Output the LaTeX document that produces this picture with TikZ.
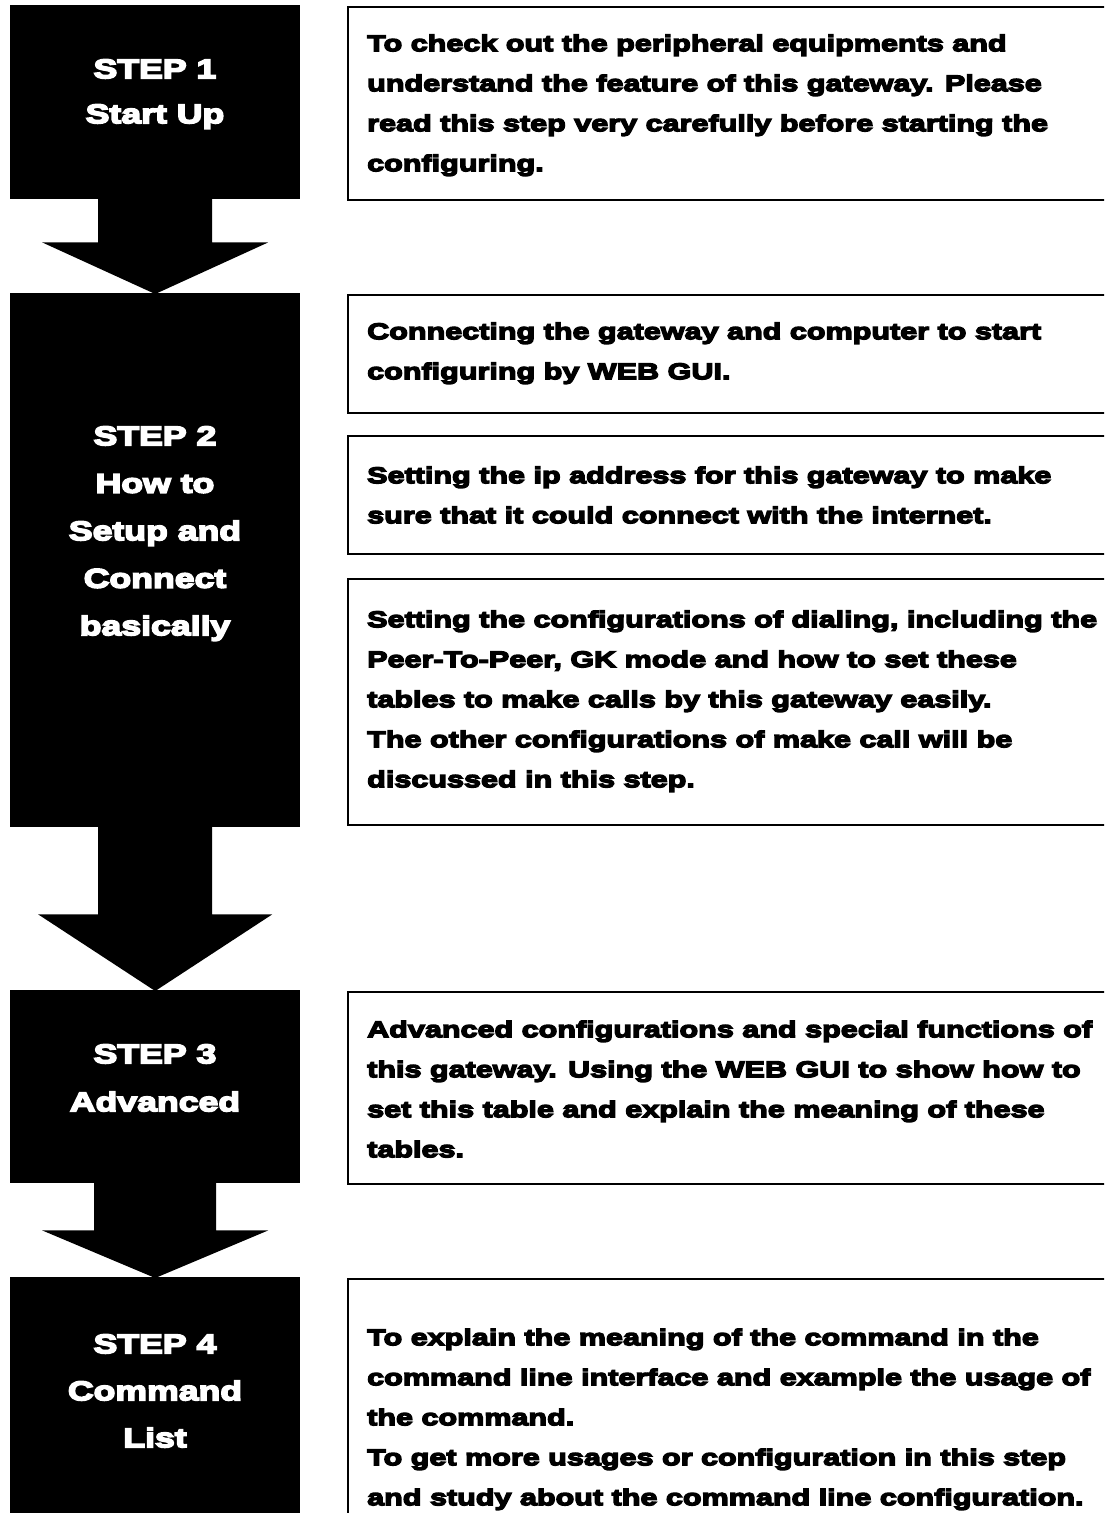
\documentclass[tikz,border=0pt]{standalone}
\usetikzlibrary{calc}
\font\bodyf="Liberation Sans Bold:embolden=6;extend=1.34" at 22.8pt
\font\labf="Liberation Sans Bold:embolden=6;extend=1.32" at 27pt
\newcommand\lstrut{\rule{0pt}{25pt}}
\newcommand\dstrut{\rule{0pt}{20pt}}
\newcommand\labfont[1]{\labf\baselineskip=#1pt\relax}
\newcommand\bodyfont{\bodyf\baselineskip=40pt\relax}
\begin{document}
\begin{tikzpicture}[x=1pt,y=-1pt,
  stepbox/.style={fill=black,draw=none,minimum width=290pt,inner sep=0pt,anchor=north west},
  descbox/.style={draw=black,line width=2pt,fill=white,inner sep=0pt,anchor=north west,minimum width=780pt},
  steplabel/.style={text=white,align=center,inner sep=0pt,anchor=north},
  desctext/.style={text=black,align=left,inner sep=0pt,anchor=north west,font=\bodyfont},
  blockarrow/.style={fill=black,draw=none}]
\path[use as bounding box] (0,0) rectangle (1104,1513);
\clip (0,0) rectangle (1104,1513);

% step boxes
\node[stepbox,minimum height=194pt] (s1) at (10,5) {};
\node[stepbox,minimum height=534pt] (s2) at (10,293) {};
\node[stepbox,minimum height=193pt] (s3) at (10,990) {};
\node[stepbox,minimum height=260pt] (s4) at (10,1277) {};

% block arrows
\fill[blockarrow] ($(s1.south)+(-57,-1)$) -- ($(s1.south)+(57,-1)$) -- ($(s1.south)+(57,43)$) -- ($(s1.south)+(113,43)$) -- ($(s2.north)+(0,1)$) -- ($(s1.south)+(-113,43)$) -- ($(s1.south)+(-57,43)$) -- cycle;
\fill[blockarrow] ($(s2.south)+(-57,-1)$) -- ($(s2.south)+(57,-1)$) -- ($(s2.south)+(57,87)$) -- ($(s2.south)+(117,87)$) -- ($(s3.north)+(0,1)$) -- ($(s2.south)+(-117,87)$) -- ($(s2.south)+(-57,87)$) -- cycle;
\fill[blockarrow] ($(s3.south)+(-61,-1)$) -- ($(s3.south)+(61,-1)$) -- ($(s3.south)+(61,47)$) -- ($(s3.south)+(113,47)$) -- ($(s4.north)+(0,1)$) -- ($(s3.south)+(-113,47)$) -- ($(s3.south)+(-61,47)$) -- cycle;

% step labels
\node[steplabel,font={\labfont{45}}] (l1) at (155,53) {\lstrut STEP 1\\Start Up};
\node[steplabel,font={\labfont{47.5}}] (l2) at (155,420) {\lstrut STEP 2\\How to\\Setup and\\Connect\\basically};
\node[steplabel,font={\labfont{48}}] (l3) at (155,1038) {\lstrut STEP 3\\Advanced};
\node[steplabel,font={\labfont{47}}] (l4) at (155,1328) {\lstrut STEP 4\\Command\\List};

% description boxes
\node[descbox,minimum height=193pt] (d1) at (347,6) {};
\node[descbox,minimum height=118pt] (d2a) at (347,294) {};
\node[descbox,minimum height=118pt] (d2b) at (347,435) {};
\node[descbox,minimum height=246pt] (d2c) at (347,578) {};
\node[descbox,minimum height=192pt] (d3) at (347,991) {};
\node[descbox,minimum height=260pt] (d4) at (347,1278) {};

% description texts
\node[desctext] (t1) at (367,31) {\dstrut To check out the peripheral equipments and\\understand the feature of this gateway. Please\\read this step very carefully before starting the\\configuring.};
\node[desctext] (t2a) at (367,319) {\dstrut Connecting the gateway and computer to start\\configuring by WEB GUI.};
\node[desctext] (t2b) at (367,463) {\dstrut Setting the ip address for this gateway to make\\sure that it could connect with the internet.};
\node[desctext] (t2c) at (367,607) {\dstrut Setting the configurations of dialing, including the\\Peer-To-Peer, GK mode and how to set these\\tables to make calls by this gateway easily.\\The other configurations of make call will be\\discussed in this step.};
\node[desctext] (t3) at (367,1017) {\dstrut Advanced configurations and special functions of\\this gateway. Using the WEB GUI to show how to\\set this table and explain the meaning of these\\tables.};
\node[desctext] (t4) at (367,1325) {\dstrut To explain the meaning of the command in the\\command line interface and example the usage of\\the command.\\To get more usages or configuration in this step\\and study about the command line configuration.};
\end{tikzpicture}
\end{document}
